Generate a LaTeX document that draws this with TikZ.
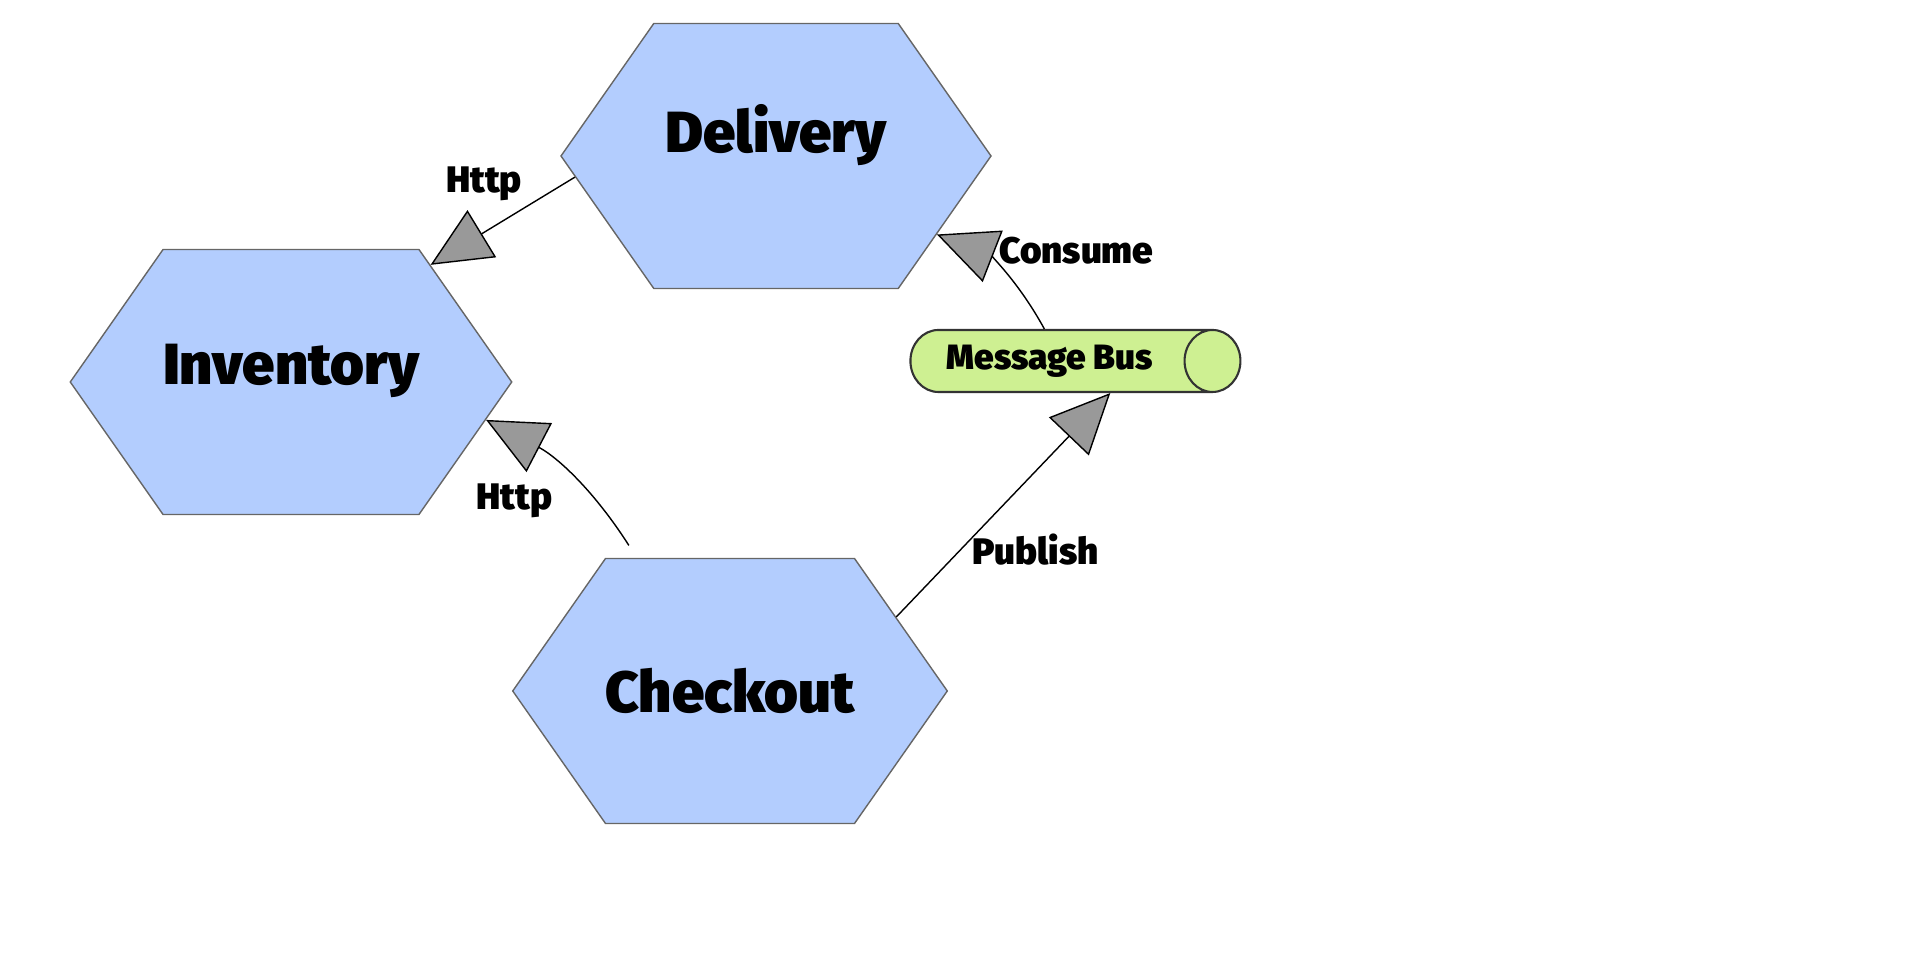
\documentclass[tikz,border=0pt]{standalone}
\usepackage{fontspec}
\setmainfont{Fira Sans}[BoldFont={Fira Sans Black}]
\usetikzlibrary{shapes,arrows.meta,positioning}

\definecolor{hexblue}{RGB}{179,205,254}
\definecolor{busgreen}{RGB}{206,240,146}

\begin{document}
\begin{tikzpicture}[->, >={Triangle[length=6mm,width=5.5mm,fill=black!40]}, auto, thin,
   x=0.1mm, y=-0.1mm,
   service/.style={signal, signal to=west and east, signal pointer angle=110,
     draw=black!60, fill=hexblue, inner xsep=0pt, minimum width=43mm, minimum height=26.5mm,
     font=\bfseries\fontsize{16.5}{20}\selectfont},
   bus/.style={cylinder, aspect=1, draw=black!80, semithick, fill=busgreen,
     minimum height=33mm, minimum width=6.2mm, font=\bfseries\fontsize{10}{12}\selectfont},
   lbl/.style={font=\bfseries\fontsize{10.5}{13}\selectfont}]

  \useasboundingbox (0,0) rectangle (1920,979);

  \node [service, text depth=5.5mm] (delivery) at (776,156) {Delivery};
  \node [service, text depth=3.5mm] (inventory) at (291,382) {Inventory};
  \node [service] (checkout) at (730,691) {Checkout};
  \node [bus] (bus) at (1050,361) {Message Bus};

  \draw (delivery.186) -- node [lbl, pos=0.33, above left=-1mm] {Http} (inventory.40);
  \draw [shorten <=1.5mm] (checkout.125) to [bend right=15] node [lbl, pos=0.55, below left] {Http} (inventory.349);
  \draw (bus.100) to [bend right=20] node [lbl, pos=0.75, right=1.5mm] {Consume} (delivery.334);
  \draw (checkout.24) -- node [lbl, pos=0.3, right] {Publish} (bus.332);
\end{tikzpicture}
\end{document}
